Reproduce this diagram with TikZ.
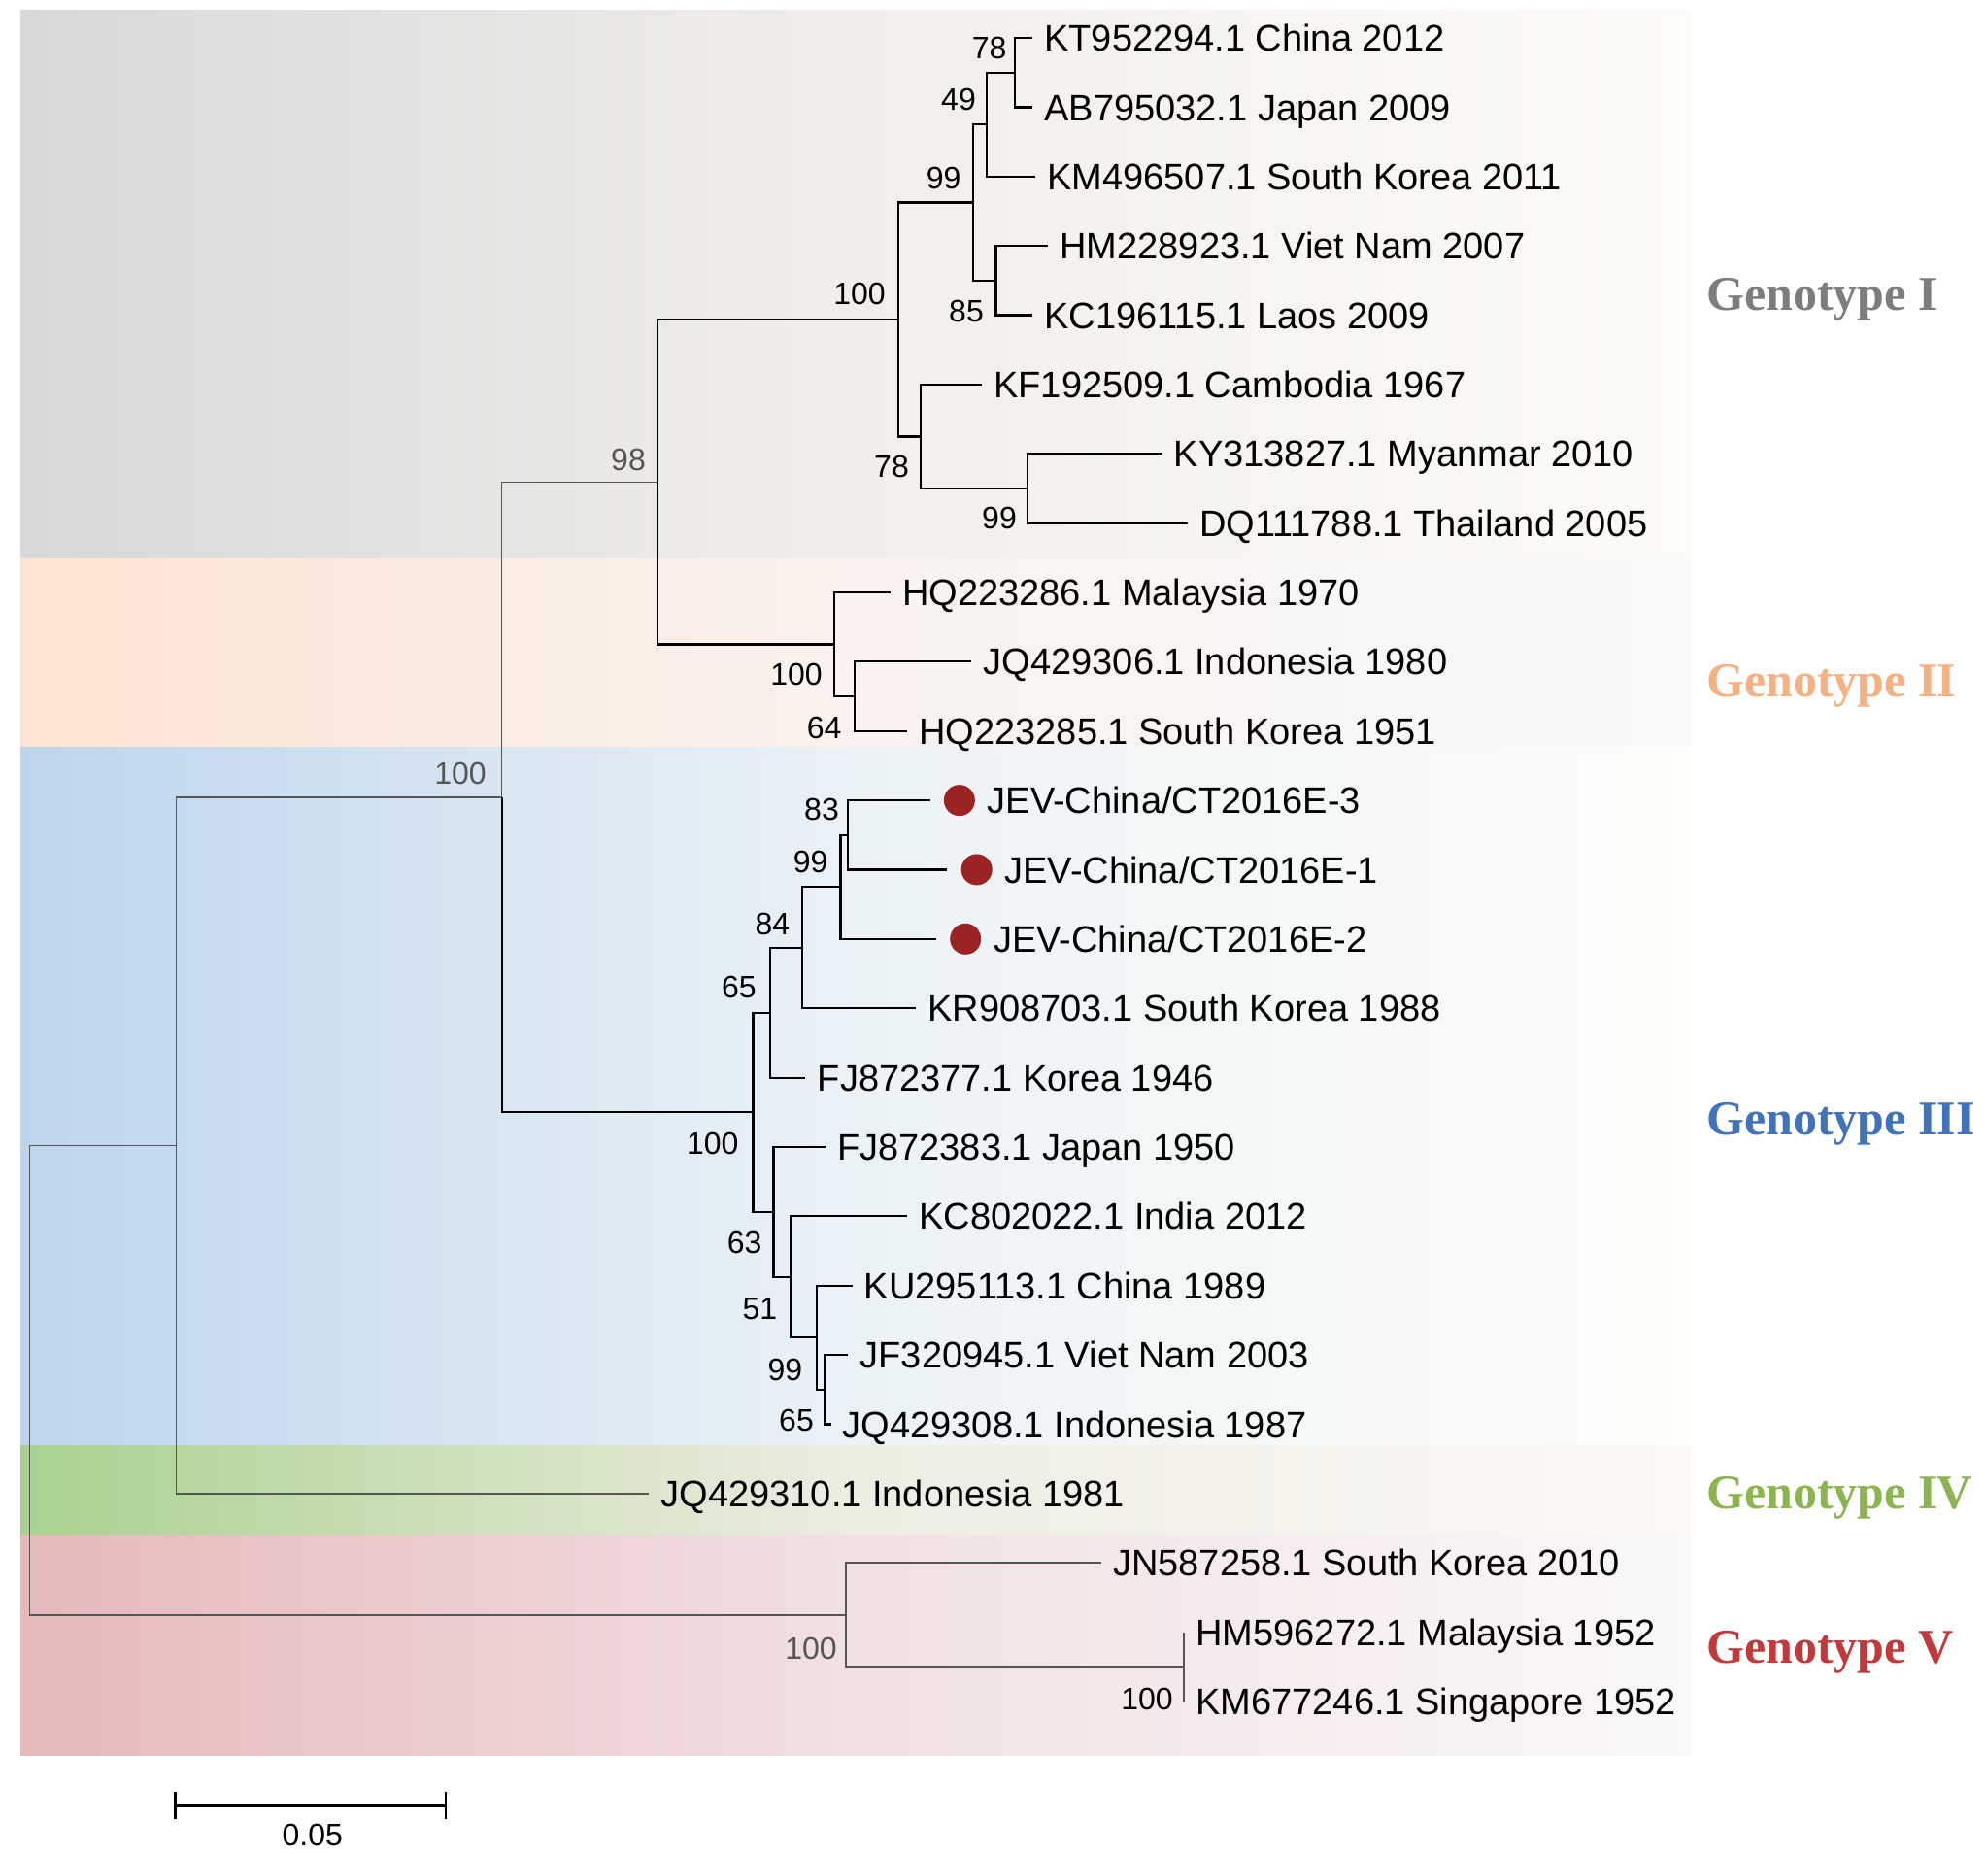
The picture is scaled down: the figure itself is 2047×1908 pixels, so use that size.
\documentclass[tikz,border=0pt]{standalone}
\usepackage{fontspec}
\setmainfont{Liberation Sans}
\newfontfamily\genofont{Liberation Serif}
\usepackage{tikz}
\usetikzlibrary{positioning}

\definecolor{geneI}{RGB}{125,125,125}
\definecolor{geneII}{RGB}{244,177,131}
\definecolor{geneIII}{RGB}{66,115,185}
\definecolor{geneIV}{RGB}{140,180,80}
\definecolor{geneV}{RGB}{192,57,59}
\definecolor{isored}{RGB}{155,35,35}
\definecolor{faintline}{RGB}{85,85,85}

\begin{document}
\begin{tikzpicture}[x=0.5pt,y=-0.5pt,
    branch/.style={line width=1.1pt},
    faint/.style={line width=0.8pt,draw=faintline},
    leaf/.style={anchor=west,inner sep=0pt,font=\fontsize{19}{22}\selectfont,text height=13.6pt,text depth=0pt},
    boot/.style={inner sep=0pt,font=\fontsize{16}{18}\selectfont},
    geno/.style={anchor=west,inner sep=0pt,font=\genofont\bfseries\fontsize{25}{28}\selectfont,text height=16.5pt,text depth=0pt},
    isolate/.style={circle,fill=isored,inner sep=0pt,minimum size=16pt}]
    \fill[white] (0,0) rectangle (2047,1908);
    \shade[left color={rgb,255:red,216;green,216;blue,216},right color={rgb,255:red,253;green,251;blue,248},middle color={rgb,255:red,241;green,238;blue,234}] (21,10.5) rectangle (1741,575);
    \shade[left color={rgb,255:red,252;green,227;blue,210},right color={rgb,255:red,248;green,249;blue,251},middle color={rgb,255:red,249;green,242;blue,238}] (21,575) rectangle (1741,769);
    \shade[left color={rgb,255:red,189;green,213;blue,236},right color={rgb,255:red,253;green,253;blue,249},middle color={rgb,255:red,235;green,242;blue,246}] (21,769) rectangle (1741,1488);
    \shade[left color={rgb,255:red,169;green,209;blue,142},right color={rgb,255:red,252;green,248;blue,246},middle color={rgb,255:red,237;green,237;blue,226}] (21,1488) rectangle (1741,1581);
    \shade[left color={rgb,255:red,230;green,184;blue,186},right color={rgb,255:red,250;green,248;blue,248},middle color={rgb,255:red,241;green,224;blue,226}] (21,1581) rectangle (1741,1807);

    \coordinate (t1) at (1063,39);
    \coordinate (t2) at (1063,110.4);
    \coordinate (t3) at (1066,181.7);
    \coordinate (t4) at (1079,253.1);
    \coordinate (t5) at (1063,324.5);
    \coordinate (t6) at (1011,395.9);
    \coordinate (t7) at (1196.5,467.2);
    \coordinate (t8) at (1222.7,538.6);
    \coordinate (t9) at (916.7,610);
    \coordinate (t10) at (1000.4,681.3);
    \coordinate (t11) at (934,752.7);
    \coordinate (t12) at (957.5,824.1);
    \coordinate (t13) at (975.3,895.4);
    \coordinate (t14) at (963.8,966.8);
    \coordinate (t15) at (942.9,1038.2);
    \coordinate (t16) at (829.4,1109.6);
    \coordinate (t17) at (849.8,1180.9);
    \coordinate (t18) at (934,1252.3);
    \coordinate (t19) at (877.5,1323.7);
    \coordinate (t20) at (873.3,1395);
    \coordinate (t21) at (855.5,1466.4);
    \coordinate (t22) at (668.3,1537.8);
    \coordinate (t23) at (1133.8,1609.1);
    \coordinate (t24) at (1219,1680.5);
    \coordinate (t25) at (1219,1751.9);

    \coordinate (nA) at (1045,74.7);
    \coordinate (nB) at (1016,128.2);
    \coordinate (nC) at (1025.5,288.8);
    \coordinate (nD) at (1002,208.5);
    \coordinate (nE) at (1058,502.9);
    \coordinate (nF) at (948,449.4);
    \coordinate (nG) at (924.6,329);
    \coordinate (nH) at (880,717);
    \coordinate (nI) at (859,663.5);
    \coordinate (nJ) at (677,496.3);
    \coordinate (nK) at (873.3,859.8);
    \coordinate (nL) at (865.5,913.3);
    \coordinate (nM) at (826.2,975.8);
    \coordinate (nN) at (792.8,1042.7);
    \coordinate (nO) at (848.7,1430.7);
    \coordinate (nP) at (840.9,1377.2);
    \coordinate (nQ) at (813.7,1314.8);
    \coordinate (nR) at (796.4,1247.9);
    \coordinate (nS) at (775.5,1145.3);
    \coordinate (nT) at (516.6,820.8);
    \coordinate (nU) at (181.5,1179.3);
    \coordinate (nV) at (1219,1716.2);
    \coordinate (nW) at (870.7,1662.7);
    \coordinate (root) at (30.3,1421);

    \foreach \p/\c in {nA/t1,nA/t2,nB/nA,nB/t3,nC/t4,nC/t5,nD/nB,nD/nC,nE/t7,nE/t8,nF/t6,nF/nE,nG/nD,nG/nF,
        nH/t10,nH/t11,nI/t9,nI/nH,nJ/nG,nJ/nI,nK/t12,nK/t13,nL/nK,nL/t14,nM/nL,nM/t15,nN/nM,nN/t16,
        nO/t20,nO/t21,nP/t19,nP/nO,nQ/t18,nQ/nP,nR/t17,nR/nQ,nS/nN,nS/nR,nT/nS}
        \draw[branch] (\p) |- (\c);
    \foreach \p/\c in {nT/nJ,nU/nT,nU/t22,root/nU,root/nW,nW/t23,nW/nV,nV/t24,nV/t25}
        \draw[faint] (\p) |- (\c);

    \node[leaf,right=6pt of t1] (l1) {KT952294.1 China 2012};
    \node[leaf,right=6pt of t2] (l2) {AB795032.1 Japan 2009};
    \node[leaf,right=6pt of t3] (l3) {KM496507.1 South Korea 2011};
    \node[leaf,right=6pt of t4] (l4) {HM228923.1 Viet Nam 2007};
    \node[leaf,right=6pt of t5] (l5) {KC196115.1 Laos 2009};
    \node[leaf,right=6pt of t6] (l6) {KF192509.1 Cambodia 1967};
    \node[leaf,right=6pt of t7] (l7) {KY313827.1 Myanmar 2010};
    \node[leaf,right=6pt of t8] (l8) {DQ111788.1 Thailand 2005};
    \node[leaf,right=6pt of t9] (l9) {HQ223286.1 Malaysia 1970};
    \node[leaf,right=6pt of t10] (l10) {JQ429306.1 Indonesia 1980};
    \node[leaf,right=6pt of t11] (l11) {HQ223285.1 South Korea 1951};
    \node[isolate,right=7pt of t12] (d12) {};
    \node[leaf,right=6pt of d12] (l12) {JEV-China/CT2016E-3};
    \node[isolate,right=7pt of t13] (d13) {};
    \node[leaf,right=6pt of d13] (l13) {JEV-China/CT2016E-1};
    \node[isolate,right=7pt of t14] (d14) {};
    \node[leaf,right=6pt of d14] (l14) {JEV-China/CT2016E-2};
    \node[leaf,right=6pt of t15] (l15) {KR908703.1 South Korea 1988};
    \node[leaf,right=6pt of t16] (l16) {FJ872377.1 Korea 1946};
    \node[leaf,right=6pt of t17] (l17) {FJ872383.1 Japan 1950};
    \node[leaf,right=6pt of t18] (l18) {KC802022.1 India 2012};
    \node[leaf,right=6pt of t19] (l19) {KU295113.1 China 1989};
    \node[leaf,right=6pt of t20] (l20) {JF320945.1 Viet Nam 2003};
    \node[leaf,right=6pt of t21] (l21) {JQ429308.1 Indonesia 1987};
    \node[leaf,right=6pt of t22] (l22) {JQ429310.1 Indonesia 1981};
    \node[leaf,right=6pt of t23] (l23) {JN587258.1 South Korea 2010};
    \node[leaf,right=6pt of t24] (l24) {HM596272.1 Malaysia 1952};
    \node[leaf,right=6pt of t25] (l25) {KM677246.1 Singapore 1952};

    \node[boot] (bA) at (1018.7,49.7) {78};
    \node[boot] (bB) at (987,102) {49};
    \node[boot] (bD) at (971.6,183) {99};
    \node[boot] (bC) at (995,320) {85};
    \node[boot] (bG) at (885,302) {100};
    \node[boot] (bF) at (918,480) {78};
    \node[boot] (bE) at (1029,533.5) {99};
    \node[boot,text=faintline] (bJ) at (647,473) {98};
    \node[boot] (bI) at (820,694.6) {100};
    \node[boot] (bH) at (848.7,749) {64};
    \node[boot,text=faintline] (bT) at (474,796) {100};
    \node[boot] (bK) at (846,833.3) {83};
    \node[boot] (bL) at (834.6,887.2) {99};
    \node[boot] (bM) at (795.4,951.5) {84};
    \node[boot] (bN) at (760.9,1016.4) {65};
    \node[boot] (bS) at (733.7,1177.5) {100};
    \node[boot] (bR) at (766.6,1279.5) {63};
    \node[boot] (bQ) at (782.3,1347.5) {51};
    \node[boot] (bP) at (808.4,1410) {99};
    \node[boot] (bO) at (820,1462.5) {65};
    \node[boot,text=faintline] (bW) at (835,1697) {100};
    \node[boot] (bV) at (1181,1749.5) {100};

    \node[geno,text=geneI] (gI) at (1757,303) {Genotype I};
    \node[geno,text=geneII] (gII) at (1757,701) {Genotype II};
    \node[geno,text=geneIII] (gIII) at (1757,1151.5) {Genotype III};
    \node[geno,text=geneIV] (gIV) at (1757,1537) {Genotype IV};
    \node[geno,text=geneV] (gV) at (1757,1696) {Genotype V};

    \coordinate (sbl) at (180.4,1859.4);
    \coordinate (sbr) at (459.2,1859.4);
    \draw[line width=1.3pt] (sbl) -- (sbr);
    \draw[line width=1.1pt] ([yshift=7pt]sbl) -- ([yshift=-7pt]sbl);
    \draw[line width=1.1pt] ([yshift=7pt]sbr) -- ([yshift=-7pt]sbr);
    \node[boot] (sblab) at (321.7,1889) {0.05};
\end{tikzpicture}
\end{document}
